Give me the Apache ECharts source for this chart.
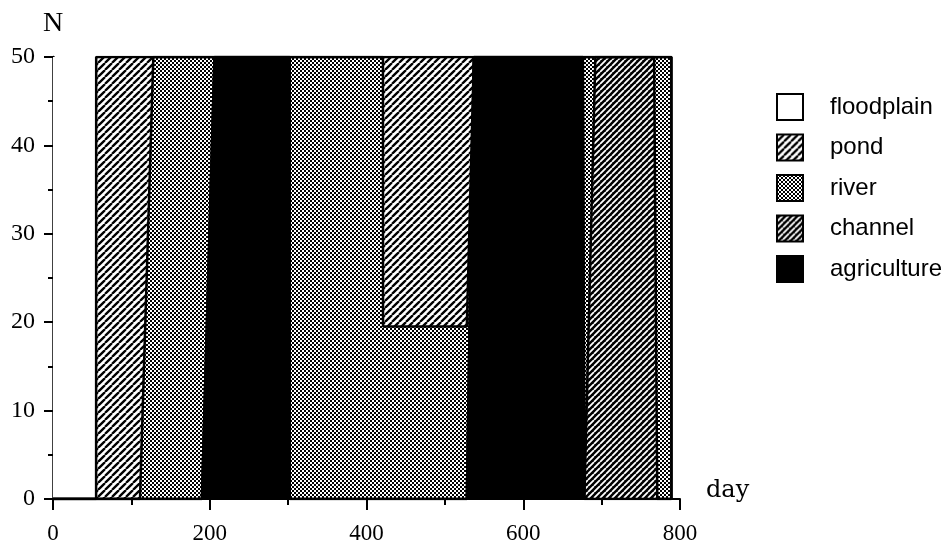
<!DOCTYPE html>
<html>
<head>
<meta charset="utf-8">
<script src="https://cdn.jsdelivr.net/npm/echarts@6/dist/echarts.min.js"></script>
<style>
  html, body { margin: 0; padding: 0; background: #fff; }
  #chart { width: 948px; height: 556px; }
</style>
</head>
<body>
<div id="chart"></div>
<script>
// Habitat occupied by N = 50 individuals over time (days); counts stack to 50.
const days        = [0, 55, 55.1, 111, 128, 190, 206, 302, 302.1, 421, 421.1, 528, 537, 676, 678, 692, 767, 771, 789, 789.1];
const agriculture = [0,  0,    0,   0,   0,   0,  50,  50,     0,   0,     0,   0,  50,  50,   0,   0,   0,   0,   0,     0];
const channel     = [0,  0,    0,   0,   0,   0,   0,   0,     0,   0,     0,   0,   0,   0,   0,  50,  50,   0,   0,     0];
const river       = [0,  0,    0,   0,  50,  50,   0,   0,    50,  50,  19.5, 19.5,  0,   0,  50,   0,   0,  50,  50,     0];
const pond        = [0,  0,   50,  50,   0,   0,   0,   0,     0,   0,  30.5, 30.5,  0,   0,   0,   0,   0,   0,   0,     0];
const floodplain  = [50, 50,   0,   0,   0,   0,   0,   0,     0,   0,     0,   0,   0,   0,   0,   0,   0,   0,   0,     0];

const legendOrder = ['floodplain', 'pond', 'river', 'channel', 'agriculture'];
const xTicks = { min: 0, max: 800, step: 200 };
const yTicks = { min: 0, max: 50, step: 10 };

// Fill patterns drawn on small tiles
function hatchTile(size, bg, fg, lw) {
  const c = document.createElement('canvas');
  c.width = c.height = size;
  const g = c.getContext('2d');
  g.fillStyle = bg;
  g.fillRect(0, 0, size, size);
  g.strokeStyle = fg;
  g.lineWidth = lw;
  g.beginPath();
  for (const o of [-size, 0, size]) {
    g.moveTo(o, size);
    g.lineTo(o + size, 0);
  }
  g.stroke();
  return { image: c, repeat: 'repeat' };
}
function stippleTile() {
  const c = document.createElement('canvas');
  c.width = c.height = 4;
  const g = c.getContext('2d');
  g.fillStyle = '#000';
  g.fillRect(0, 0, 4, 4);
  g.fillStyle = '#fff';
  g.fillRect(0, 0, 2, 2);
  g.fillRect(2, 2, 2, 2);
  return { image: c, repeat: 'repeat' };
}

const fills = {
  floodplain: '#ffffff',
  pond: hatchTile(7, '#ffffff', '#000000', 2.3),
  river: stippleTile(),
  channel: hatchTile(6, '#000000', '#ffffff', 1.8),
  agriculture: '#000000'
};

const values = { agriculture, channel, river, pond, floodplain };
// bottom of the stack first
const stackOrder = ['agriculture', 'channel', 'river', 'pond', 'floodplain'];

// Each point is [N, day]: the count comes first so that it is the stacked dimension
const series = stackOrder.map(name => ({
  name,
  type: 'line',
  stack: 'habitat',
  encode: { x: 1, y: 0 },
  data: days.map((d, i) => [values[name][i], d]),
  symbol: 'none',
  showSymbol: false,
  lineStyle: { color: '#000', width: name === 'floodplain' ? 0 : 2.5 },
  itemStyle: { color: name === 'floodplain' ? '#fff' : '#000' },
  areaStyle: { color: fills[name], opacity: 1 },
  emphasis: { disabled: true },
  silent: true
}));

const chart = echarts.init(document.getElementById('chart'), null, { renderer: 'canvas' });
chart.setOption({
  animation: false,
  backgroundColor: '#fff',
  grid: { left: 53, right: 268, top: 57, bottom: 57, containLabel: false },
  xAxis: {
    type: 'value',
    min: xTicks.min, max: xTicks.max, interval: xTicks.step,
    name: 'day',
    nameLocation: 'end',
    nameGap: 26,
    nameTextStyle: { fontFamily: 'DejaVu Serif', fontSize: 24, color: '#000', verticalAlign: 'bottom', lineHeight: 16 },
    axisLine: { show: true, onZero: false, lineStyle: { color: '#000', width: 2 } },
    axisTick: { show: true, length: 11, lineStyle: { color: '#000', width: 2 } },
    minorTick: { show: true, splitNumber: 2, length: 6, lineStyle: { color: '#000', width: 2 } },
    axisLabel: { margin: 23, fontFamily: 'Liberation Serif', fontSize: 23, color: '#000' },
    splitLine: { show: false },
    minorSplitLine: { show: false }
  },
  yAxis: {
    type: 'value',
    min: yTicks.min, max: yTicks.max, interval: yTicks.step,
    name: 'N',
    nameLocation: 'end',
    nameGap: 19,
    nameTextStyle: { fontFamily: 'Liberation Serif', fontSize: 28, color: '#000', align: 'center' },
    axisLine: { show: true, lineStyle: { color: '#000', width: 2.5 } },
    axisTick: { show: true, length: 9, lineStyle: { color: '#000', width: 2 } },
    minorTick: { show: true, splitNumber: 2, length: 5, lineStyle: { color: '#000', width: 2 } },
    axisLabel: { margin: 18, fontFamily: 'Liberation Serif', fontSize: 24, color: '#000' },
    splitLine: { show: false },
    minorSplitLine: { show: false }
  },
  legend: {
    orient: 'vertical',
    left: 771,
    top: 88,
    icon: 'rect',
    itemWidth: 26,
    itemHeight: 26,
    itemGap: 12.5,
    selectedMode: false,
    textStyle: { fontFamily: 'Liberation Sans', fontSize: 24, color: '#000', padding: [0, 0, 0, 22] },
    data: legendOrder.map(name => ({
      name,
      itemStyle: { color: fills[name], borderColor: '#000', borderWidth: 2, opacity: 1 }
    }))
  },
  series
});
</script>
</body>
</html>
